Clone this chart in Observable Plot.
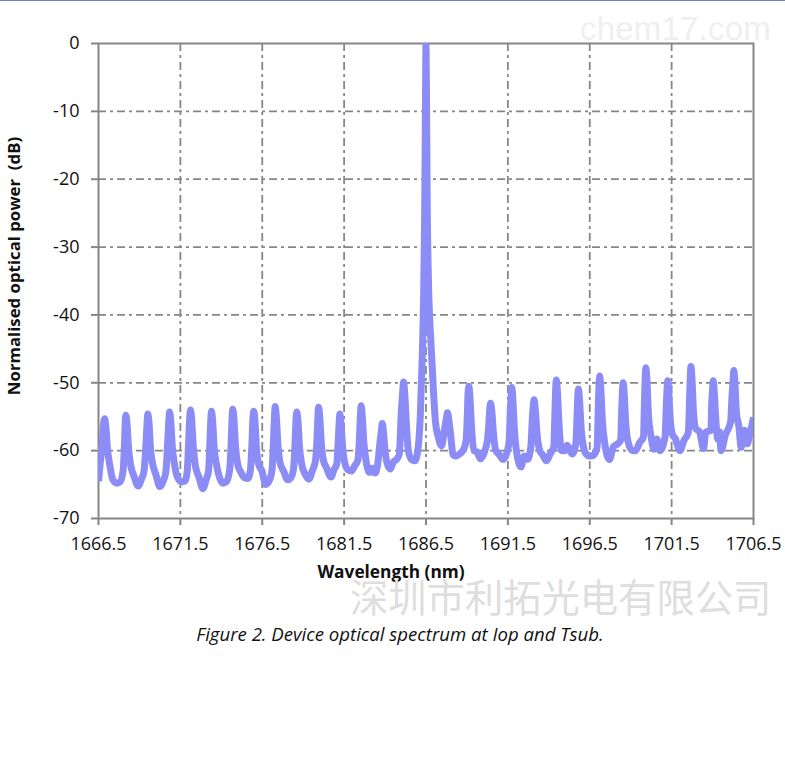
<!DOCTYPE html>
<html>
<head>
<meta charset="utf-8">
<script src="https://cdn.jsdelivr.net/npm/d3@7"></script>
<script src="https://cdn.jsdelivr.net/npm/@observablehq/plot@0.6"></script>
<style>
html,body{margin:0;padding:0;background:#fff;}
#wrap{position:relative;width:785px;height:783px;overflow:hidden;font-family:"Open Sans",sans-serif;}
#topline{position:absolute;left:0;top:0;width:785px;height:1px;background:#7080c8;}
#chart{position:absolute;left:0;top:0;}
.wm{position:absolute;white-space:nowrap;}
#wm1{left:580px;top:9px;font-size:33px;line-height:40px;color:#efefef;font-family:"Liberation Sans",sans-serif;letter-spacing:0.2px;}
#wm2{left:350px;top:578px;font-size:38.3px;line-height:36px;color:#dedede;font-family:"Noto Sans CJK SC",sans-serif;}
#caption{position:absolute;left:0;width:800px;text-align:center;top:622px;font-size:18.6px;line-height:24px;font-style:italic;color:#111;}
</style>
</head>
<body>
<div id="wrap">
<div id="chart"></div>
<div id="topline"></div>
<div class="wm" id="wm1">chem17.com</div>
<div class="wm" id="wm2">深圳市利拓光电有限公司</div>
<div id="caption">Figure 2. Device optical spectrum at Iop and Tsub.</div>
</div>
<script>
const wavelength = [
1666.5,1666.6,1666.72,1666.8,1666.88,1666.95,1667.05,1667.18,1667.38,1667.62,1667.82,1668.0,
1668.08,1668.13,1668.17,1668.24,1668.34,1668.47,1668.67,1668.92,1669.12,1669.28,
1669.4,1669.47,1669.51,1669.58,1669.68,1669.81,1670.0,1670.25,1670.45,1670.62,
1670.72,1670.8,1670.84,1670.91,1671.01,1671.14,1671.34,1671.6,1671.78,1671.92,
1672.0,1672.07,1672.12,1672.19,1672.29,1672.42,1672.62,1672.88,1673.08,1673.22,
1673.3,1673.36,1673.4,1673.47,1673.57,1673.7,1673.9,1674.1,1674.3,1674.5,
1674.6,1674.66,1674.7,1674.77,1674.87,1675.0,1675.2,1675.42,1675.62,1675.78,
1675.87,1675.93,1675.98,1676.05,1676.15,1676.28,1676.48,1676.72,1676.95,1677.1,
1677.18,1677.25,1677.29,1677.36,1677.46,1677.59,1677.8,1678.05,1678.25,1678.42,
1678.5,1678.56,1678.61,1678.68,1678.78,1678.91,1679.1,1679.35,1679.55,1679.75,
1679.84,1679.9,1679.94,1680.01,1680.11,1680.24,1680.42,1680.7,1680.88,1681.05,
1681.14,1681.2,1681.24,1681.31,1681.41,1681.54,1681.72,1681.95,1682.15,1682.33,
1682.44,1682.5,1682.54,1682.61,1682.71,1682.84,1683.05,1683.2,1683.38,1683.55,
1683.68,1683.78,1683.83,1683.9,1684.0,1684.12,1684.32,1684.5,1684.7,1684.87,
1684.98,1685.08,1685.13,1685.2,1685.3,1685.42,1685.62,1685.82,1686.0,
1686.15,1686.27,1686.35,1686.42,1686.47,1686.5,1686.53,1686.58,1686.65,1686.8,1686.96,1687.08,1687.25,1687.45,
1687.62,1687.74,1687.81,1687.9,1688.02,1688.15,1688.32,1688.6,1688.8,1688.95,
1689.02,1689.07,1689.12,1689.18,1689.28,1689.42,1689.62,1689.82,1690.05,1690.25,
1690.34,1690.39,1690.44,1690.52,1690.62,1690.76,1690.95,1691.2,1691.4,1691.58,
1691.65,1691.7,1691.74,1691.8,1691.9,1692.05,1692.3,1692.5,1692.7,1692.9,
1693.0,1693.05,1693.1,1693.17,1693.28,1693.45,1693.62,1693.85,1694.1,1694.3,
1694.38,1694.42,1694.46,1694.52,1694.62,1694.78,1694.98,1695.12,1695.42,1695.65,
1695.73,1695.77,1695.81,1695.87,1695.97,1696.12,1696.28,1696.48,1696.72,1696.95,
1697.03,1697.07,1697.11,1697.17,1697.27,1697.42,1697.7,1697.95,1698.2,1698.38,
1698.46,1698.5,1698.54,1698.6,1698.7,1698.85,1699.1,1699.3,1699.55,1699.78,
1699.85,1699.89,1699.93,1699.99,1700.09,1700.22,1700.42,1700.6,1700.78,1701.1,
1701.18,1701.22,1701.26,1701.32,1701.42,1701.55,1701.72,1702.0,1702.25,1702.52,
1702.6,1702.64,1702.68,1702.74,1702.84,1702.98,1703.2,1703.45,1703.58,1703.9,
1703.95,1704.0,1704.04,1704.1,1704.2,1704.32,1704.42,1704.52,1704.78,1705.1,
1705.2,1705.26,1705.3,1705.36,1705.46,1705.6,1705.75,1705.95,1706.12,1706.28,1706.5
];
const power = [
-64.5,-62,-59,-56.3,-55.3,-56.5,-59.8,-62,-64.3,-64.8,-64.6,-63,
-59.5,-56,-54.8,-56,-59.8,-62.2,-63.8,-65.2,-64.2,-63,
-59,-55.8,-54.6,-55.8,-59.8,-62,-63.5,-65.3,-64.5,-63,
-59,-55.5,-54.3,-55.6,-59.5,-62,-64,-64.6,-64.5,-63,
-59,-55.2,-54,-55.4,-59.5,-62.3,-63.8,-65.6,-64.2,-63,
-59,-55.4,-54.2,-55.6,-59.8,-62,-64,-64.8,-64.6,-63,
-59,-55,-53.9,-55.3,-59.5,-62,-63.2,-64,-64.1,-62.8,
-59,-55.3,-54.2,-55.5,-59.8,-62,-63,-65,-64.3,-62.8,
-59,-54.8,-53.5,-55,-59.2,-61.8,-63,-64.3,-64,-62.5,
-59,-55.5,-54.3,-55.6,-59.6,-62,-63.4,-64.2,-63,-61.5,
-58.5,-54.9,-53.6,-55,-59,-61.5,-62.5,-63.9,-62.8,-62,
-58.5,-55.8,-54.6,-56,-59.5,-61.8,-62.8,-63,-62.2,-61.5,
-58,-54.6,-53.4,-55,-59,-61.5,-63.2,-62.6,-63.3,-62,
-59,-57,-56,-57.2,-60,-61.8,-62.7,-61.7,-61.3,-60.5,
-55,-51.2,-49.9,-51.5,-56,-60,-61.3,-61.5,-60,
-55,-46.3,-38,-25,-8,0,-8,-25,-35,-44,-51.4,-55.8,-58,-59.3,
-57,-55.3,-54.4,-55.6,-58,-60.6,-60.8,-60.4,-59.8,-58.5,
-55,-51.5,-50.5,-52,-56.5,-60,-60.2,-61.2,-60.3,-58.5,
-56,-54,-53,-54.2,-57.5,-60,-60.5,-61.3,-60.6,-58.5,
-54,-51.8,-50.7,-52.2,-57,-60.5,-62.4,-60.8,-61.3,-59.5,
-55,-53.4,-52.5,-53.8,-57.5,-60,-60.6,-61.5,-60.4,-59.5,
-54,-50.8,-49.6,-51,-56,-60,-60,-59.2,-60.5,-59,
-54.5,-52,-50.9,-52.3,-56.5,-59.5,-60.5,-60.8,-60.7,-59.5,
-53,-50.2,-49,-50.6,-55.5,-59,-61.3,-59.4,-59,-58.5,
-53.5,-51,-50,-51.5,-56,-58.8,-60,-60,-58.8,-58,
-52,-49,-47.8,-49.5,-55,-57.5,-59.8,-58.3,-60,-58,
-53,-51,-49.7,-51.2,-55.5,-57.6,-58.2,-60,-58.5,-57.3,
-52,-49,-47.6,-49.2,-54.5,-56.8,-57.2,-59.7,-57.3,-57,
-53,-51,-49.7,-51.2,-55.5,-58.3,-57.2,-60,-57.7,-55.8,
-51.5,-49.4,-48.2,-49.8,-54.5,-56.3,-59.5,-57,-59,-57.5,-55.1
];
const xTicks = [1666.5,1671.5,1676.5,1681.5,1686.5,1691.5,1696.5,1701.5,1706.5];
const yTicks = [0,-10,-20,-30,-40,-50,-60,-70];
const spectrum = wavelength.map((w,i)=>({w,p:power[i]}));
const grey = "#868686";
const tickFont = 18;

const chart = Plot.plot({
  width:785, height:590,
  marginLeft:98, marginRight:32, marginTop:43, marginBottom:72,
  style:{fontFamily:'"Open Sans",sans-serif',background:"transparent",overflow:"visible"},
  x:{domain:[1666.5,1706.5]},
  y:{domain:[-70,0]},
  marks:[
    Plot.gridX(xTicks.slice(1,-1),{stroke:grey,strokeOpacity:1,strokeWidth:1.8,strokeDasharray:"8 4 3 4"}),
    Plot.gridY(yTicks.slice(1,-1),{stroke:grey,strokeOpacity:1,strokeWidth:1.8,strokeDasharray:"8 4 3 4"}),
    Plot.frame({stroke:grey,strokeWidth:2}),
    Plot.axisX({ticks:xTicks,tickFormat:d=>d.toFixed(1),tickSize:7,tickPadding:12,stroke:grey,strokeWidth:2,fill:"#111",fontSize:tickFont,label:null}),
    Plot.axisY({ticks:yTicks,tickFormat:d=>String(d),tickSize:7,tickPadding:12,stroke:grey,strokeWidth:2,fill:"#111",fontSize:tickFont,label:null}),
    Plot.line(spectrum,{x:"w",y:"p",stroke:"#8c8cf7",strokeWidth:7,strokeLinejoin:"round",strokeLinecap:"butt",curve:"monotone-x",clip:true}),
    Plot.text(["Wavelength (nm)"],{frameAnchor:"bottom",dy:54,dx:-35,lineAnchor:"middle",fontWeight:"bold",fontSize:17.3,fill:"#111"}),
    Plot.text(["Normalised optical power  (dB)"],{frameAnchor:"left",textAnchor:"middle",rotate:-90,dx:-84,dy:-15,fontWeight:"bold",fontSize:16.8,fill:"#111"})
  ]
});
document.getElementById("chart").appendChild(chart);
</script>
</body>
</html>
